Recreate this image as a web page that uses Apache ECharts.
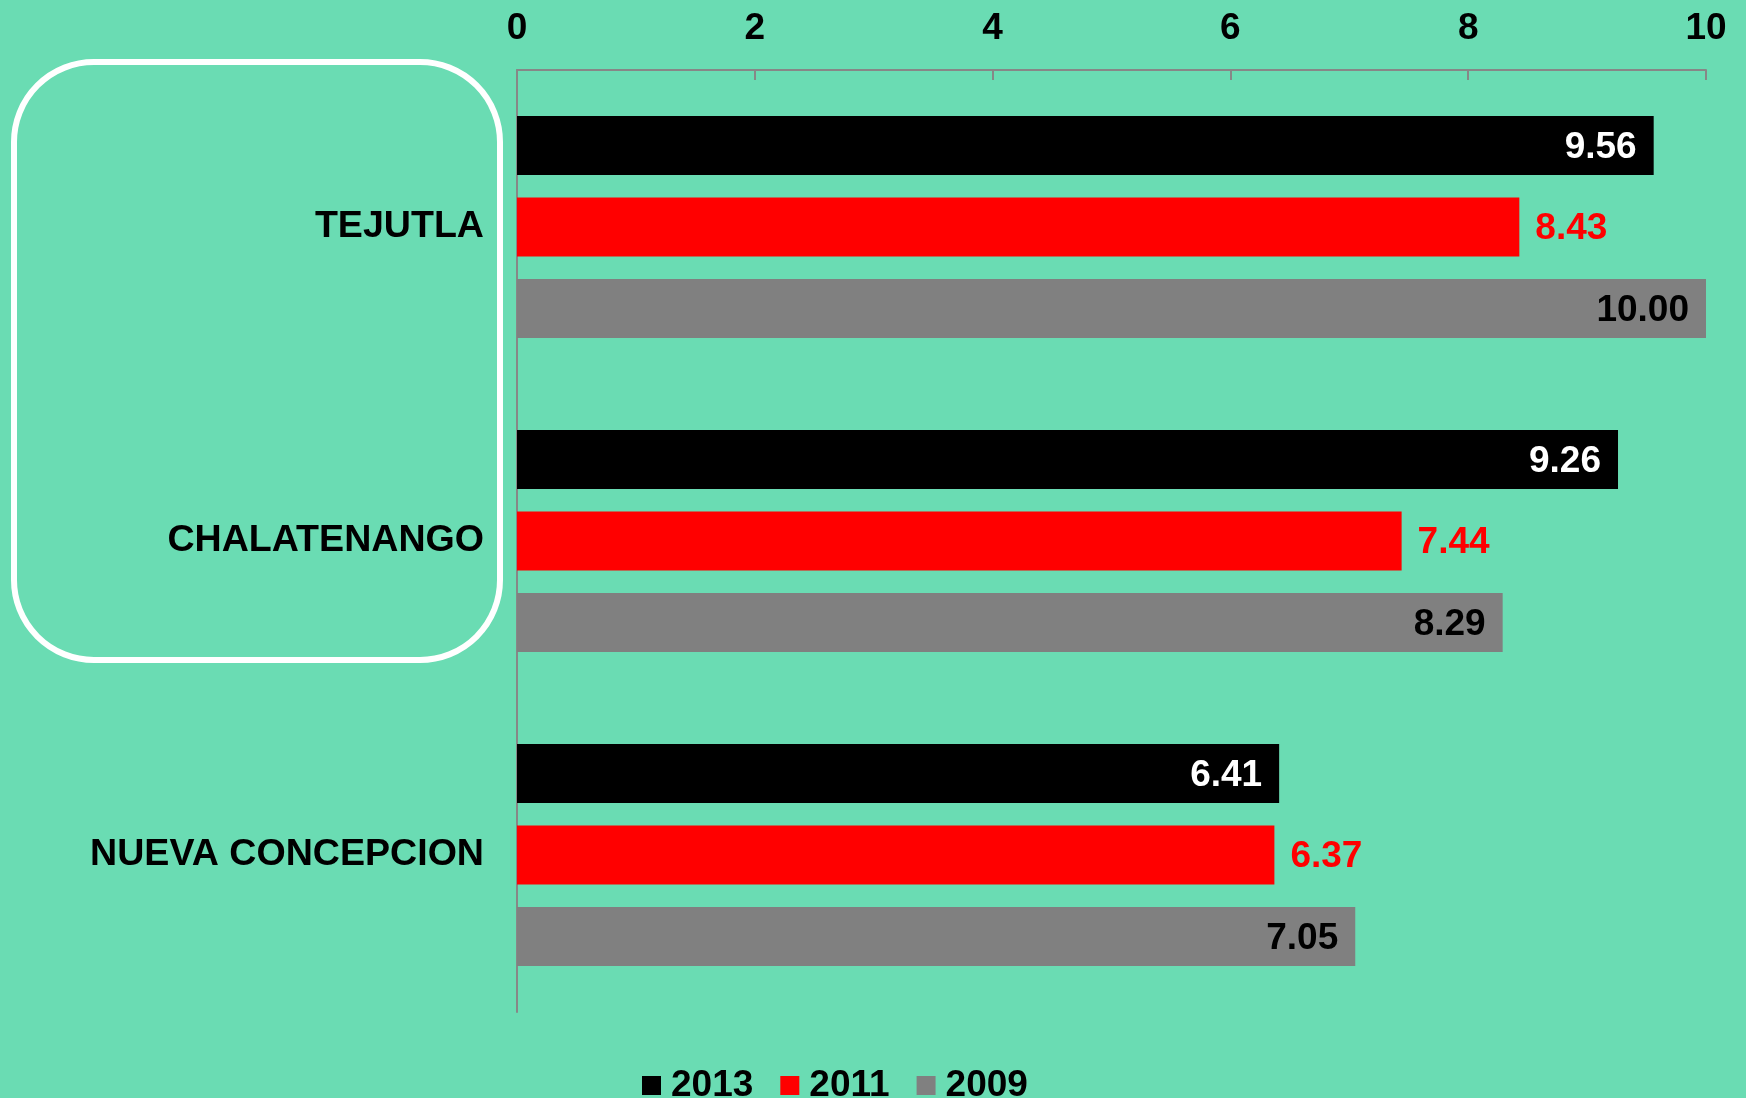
<!DOCTYPE html>
<html>
<head>
<meta charset="utf-8">
<script src="https://cdn.jsdelivr.net/npm/echarts@6/dist/echarts.min.js"></script>
<style>
  html, body { margin: 0; padding: 0; background: #6adcb3; }
  #grafico { width: 1746px; height: 1098px; }
</style>
</head>
<body>
<div id="grafico"></div>
<script>
// dados
const municipios = ["TEJUTLA", "CHALATENANGO", "NUEVA CONCEPCION"];
const anos = ["2013", "2011", "2009"];
const valores2013 = [9.56, 9.26, 6.41];
const valores2011 = [8.43, 7.44, 6.37];
const valores2009 = [10.00, 8.29, 7.05];
const ticksX = [0, 2, 4, 6, 8, 10];

const fonte = "'Liberation Sans', Arial, sans-serif";

function rotulo(cor, posicao, distancia) {
    return {
        show: true,
        position: posicao,
        distance: distancia,
        offset: [0, 2],
        color: cor,
        fontFamily: fonte,
        fontWeight: "bold",
        fontSize: 37,
        formatter: p => p.value.toFixed(2)
    };
}

let grafico = echarts.init(document.getElementById("grafico"));

let option = {
    backgroundColor: "#6adcb3",
    animation: false,
    grid: {
        left: 517,
        right: 40,
        top: 70,
        height: 942
    },
    legend: {
        data: anos,
        left: 637,
        top: 1062,
        itemWidth: 19,
        itemHeight: 19,
        itemGap: 27,
        icon: "rect",
        textStyle: {
            color: "#000",
            fontFamily: fonte,
            fontWeight: "bold",
            fontSize: 37,
            padding: [4, 0, 0, 5]
        }
    },
    xAxis: {
        type: "value",
        position: "top",
        min: ticksX[0],
        max: ticksX[ticksX.length - 1],
        interval: 2,
        axisLine: { show: true, lineStyle: { color: "#878787", width: 2 } },
        axisTick: { show: true, inside: true, length: 10, lineStyle: { color: "#878787", width: 2 } },
        splitLine: { show: false },
        axisLabel: {
            color: "#000",
            fontFamily: fonte,
            fontWeight: "bold",
            fontSize: 37,
            margin: 23
        }
    },
    yAxis: {
        type: "category",
        data: municipios,
        inverse: true,
        axisLine: { show: true, lineStyle: { color: "#878787", width: 2 } },
        axisTick: { show: false },
        axisLabel: {
            color: "#000",
            fontFamily: fonte,
            fontWeight: "bold",
            fontSize: 37.6,
            margin: 33,
            padding: [2, 0, 0, 0]
        }
    },
    graphic: [{
        type: "rect",
        shape: { x: 14, y: 62, width: 486, height: 598, r: 80 },
        style: { fill: "none", stroke: "#ffffff", lineWidth: 6 },
        z: 0
    }],
    series: [
        {
            name: "2013",
            type: "bar",
            data: valores2013,
            barWidth: 59,
            barGap: "38%",
            itemStyle: { color: "#000000" },
            label: rotulo("#ffffff", "insideRight", 17)
        },
        {
            name: "2011",
            type: "bar",
            data: valores2011,
            barWidth: 59,
            barGap: "38%",
            itemStyle: { color: "#ff0000" },
            label: rotulo("#ff0000", "right", 16)
        },
        {
            name: "2009",
            type: "bar",
            data: valores2009,
            barWidth: 59,
            barGap: "38%",
            itemStyle: { color: "#808080" },
            label: rotulo("#000000", "insideRight", 17)
        }
    ]
};

grafico.setOption(option);
</script>
</body>
</html>
